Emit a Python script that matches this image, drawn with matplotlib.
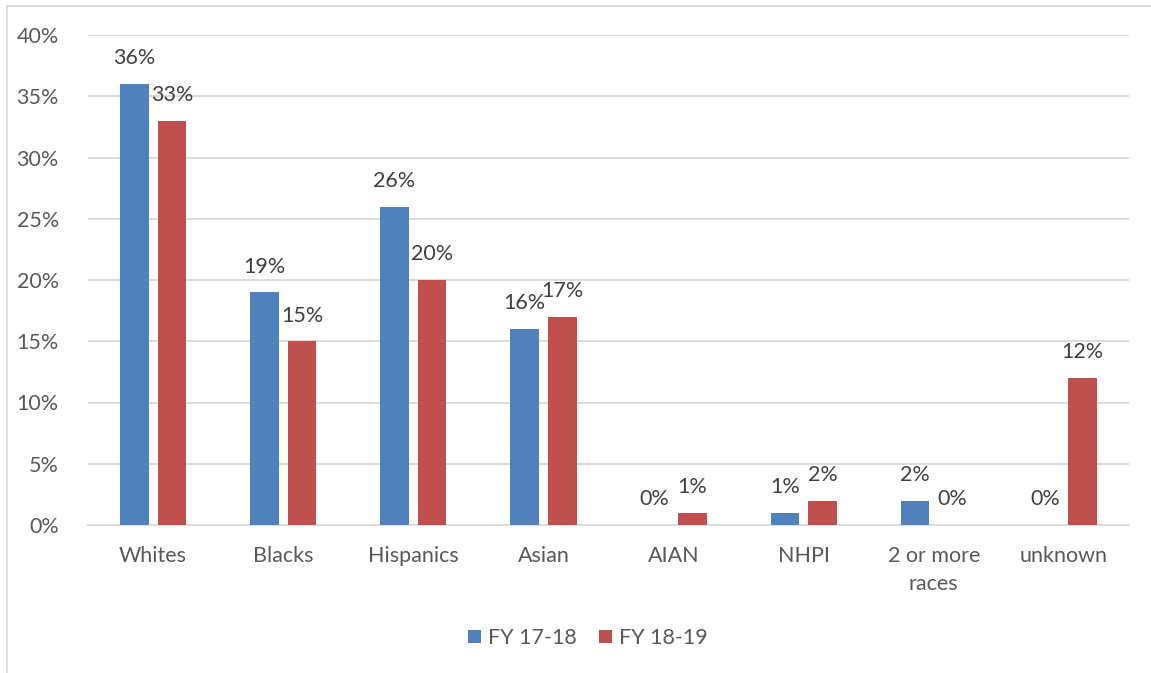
import matplotlib
matplotlib.use("Agg")
import matplotlib.pyplot as plt
import numpy as np
from matplotlib.lines import Line2D

categories = ["Whites", "Blacks", "Hispanics", "Asian", "AIAN", "NHPI", "2 or more\nraces", "unknown"]
fy1718 = [36, 19, 26, 16, 0, 1, 2, 0]
fy1819 = [33, 15, 20, 17, 1, 2, 0, 12]
series_names = ["FY 17-18", "FY 18-19"]
yticks = [0, 5, 10, 15, 20, 25, 30, 35, 40]

W, H = 1151, 673
plt.rcParams['font.family'] = ['Lato', 'DejaVu Sans']
fig = plt.figure(figsize=(W / 100, H / 100), dpi=100)
ax = fig.add_axes([88 / W, 1 - 525 / H, (1129 - 88) / W, (525 - 35) / H])

FS = 15.5
blue = "#4f81bd"
red = "#c0504d"
text_col = "#595959"
x = np.arange(len(categories))
bw = 0.22
off = 0.145
b1 = ax.bar(x - off, fy1718, bw, color=blue, label=series_names[0], zorder=3)
b2 = ax.bar(x + off, fy1819, bw, color=red, label=series_names[1], zorder=3)

for bars, vals in ((b1, fy1718), (b2, fy1819)):
    for rect, v in zip(bars, vals):
        ax.annotate(f"{v}%", (rect.get_x() + rect.get_width() / 2, v),
                    xytext=(0, 18.5), textcoords="offset points",
                    ha="center", va="center", fontsize=FS, color="#404040")

ax.set_xlim(-0.5, len(categories) - 0.5)
ax.set_ylim(0, 40)
ax.set_yticks(yticks)
ax.set_yticklabels([f"{t}%" for t in yticks])
ax.set_xticks(x)
ax.set_xticklabels(categories, linespacing=1.5)
ax.tick_params(axis="both", length=0, labelsize=FS, labelcolor=text_col)
ax.tick_params(axis="y", pad=21)
ax.tick_params(axis="x", pad=15)
ax.grid(axis="y", color="#d9d9d9", linewidth=1.3, zorder=0)
for s in ["top", "right", "left"]:
    ax.spines[s].set_visible(False)
ax.spines["bottom"].set_color("#d9d9d9")
ax.spines["bottom"].set_linewidth(1.3)

fig.legend(handles=[b1, b2], labels=series_names, loc="center",
           bbox_to_anchor=(588 / W, 1 - 638 / H), ncol=2, frameon=False,
           fontsize=FS, labelcolor=text_col, handlelength=0.6, handleheight=0.6,
           columnspacing=1.0, handletextpad=0.35)

fig.add_artist(Line2D([7 / W, 7 / W], [0, 1 - 6 / H], color="#d9d9d9", lw=1.3, transform=fig.transFigure))
fig.add_artist(Line2D([7 / W, 1], [1 - 6 / H, 1 - 6 / H], color="#d9d9d9", lw=1.3, transform=fig.transFigure))

fig.savefig("out.png", dpi=100)
